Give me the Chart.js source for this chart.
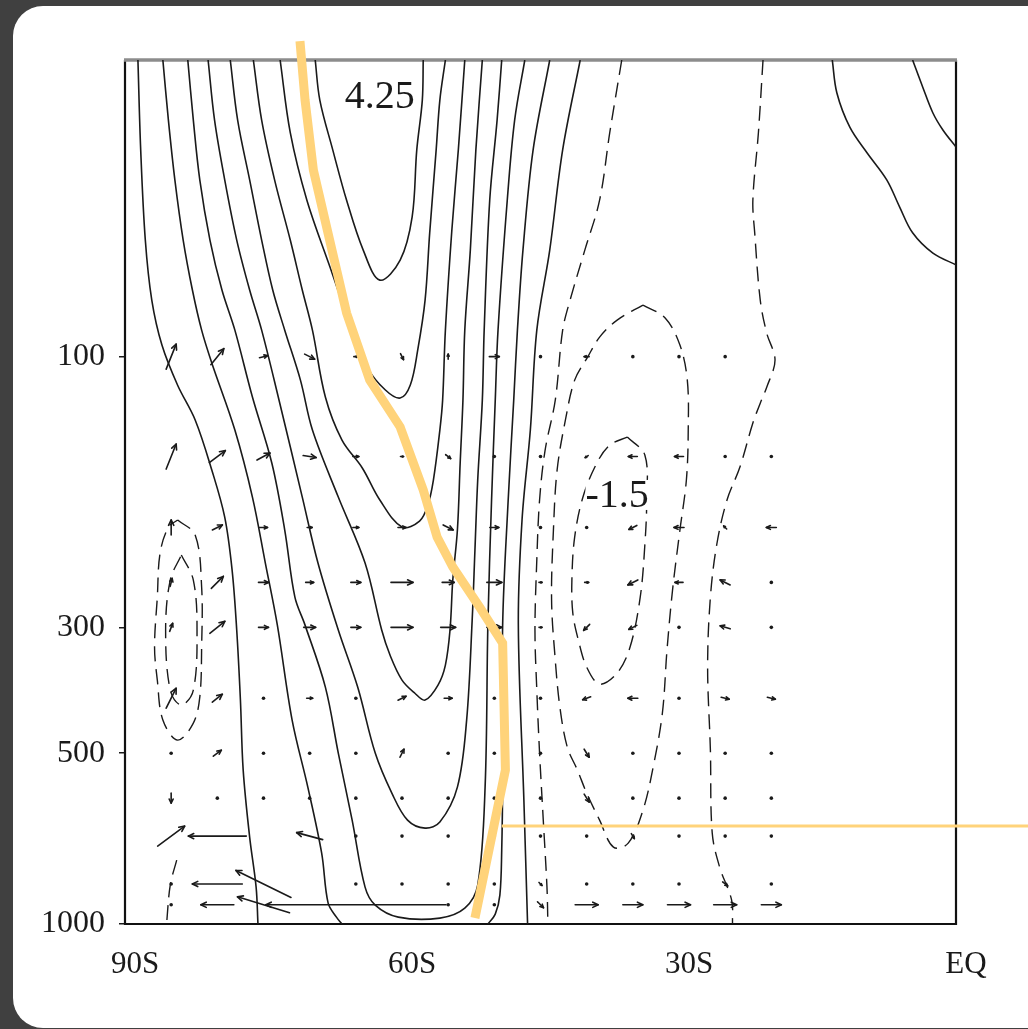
<!DOCTYPE html>
<html>
<head>
<meta charset="utf-8">
<script src="https://cdn.jsdelivr.net/npm/chart.js@4.4.1/dist/chart.umd.min.js"></script>
<style>
  html, body { margin: 0; padding: 0; background: #404040; }
  body { width: 1028px; height: 1029px; position: relative; overflow: hidden; }
  .card { position: absolute; left: 13px; top: 6px; width: 1060px; height: 1022px; background: #fff; border-radius: 30px; }
  canvas { position: absolute; left: 0; top: 0; }
</style>
</head>
<body>
<div class="card"></div>
<canvas id="chart" width="1028" height="1029"></canvas>
<script>
// axes
const xTickValues = [-90, -60, -30, 0];
const xTickLabels = ["90S", "60S", "30S", "EQ"];
const yTickValues = [100, 300, 500, 1000];
const yTickLabels = ["100", "300", "500", "1000"];

// positive (solid) contours, [latitude, hPa]
const pos425 = [[-69.4,30],[-68.9,35.3],[-67.5,43.2],[-66.0,53.0],[-64.2,64.9],[-62.4,73.3],[-60.2,67.6],[-58.9,56.7],[-58.4,43.2],[-57.8,35.3],[-57.7,30]];
const pos2 = [[-73.2,30],[-72.1,40.3],[-70.3,53.0],[-67.8,69.5],[-65.3,90.9],[-63.8,104.3],[-61.8,114.5],[-60.2,118.3],[-59.1,112.2],[-58.3,97.4],[-57.5,79.5],[-57.0,60.5],[-56.3,43.2],[-55.9,35.3],[-55.3,30]];
const pos3 = [[-76.1,30],[-75.2,38.3],[-73.8,48.8],[-72.1,62.3],[-70.8,76.3],[-69.7,89.8],[-68.3,117.8],[-66.5,140.3],[-64.3,157.1],[-62.4,178.9],[-60.0,199.7],[-58.1,194.9],[-57.2,182.6],[-56.6,165.0],[-55.9,134.7],[-55.6,119.3],[-55.3,89.8],[-54.6,59.8],[-53.9,43.2],[-53.2,30]];
const pos4 = [[-78.6,30],[-77.8,38.3],[-76.5,48.8],[-75.2,62.3],[-74.0,76.3],[-72.7,89.8],[-71.0,110.0],[-69.7,134.7],[-66.9,176.8],[-64.0,231.1],[-62.2,303.3],[-61.3,335.7],[-60.0,371.6],[-58.6,392.0],[-57.5,403.0],[-56.1,379.2],[-55.3,349.6],[-54.8,303.3],[-54.5,247.6],[-54.0,202.1],[-53.7,154.0],[-53.4,119.3],[-53.2,89.8],[-52.6,64.9],[-52.0,43.2],[-51.3,30]];
const pos5 = [[-81.0,30],[-80.3,38.3],[-79.2,48.8],[-77.9,62.3],[-76.5,76.3],[-75.2,89.8],[-73.4,117.8],[-70.8,176.8],[-69.1,231.1],[-66.9,303.3],[-64.8,382.3],[-62.9,499.8],[-61.1,587.9],[-59.4,656.0],[-57.5,677.7],[-55.9,661.3],[-54.0,573.8],[-53.0,437.1],[-52.4,291.3],[-52.1,219.2],[-51.8,165.0],[-51.3,119.3],[-51.1,89.8],[-50.5,53.0],[-49.7,38.3],[-49.2,30]];
const pos6 = [[-83.2,30],[-82.6,38.3],[-81.9,48.8],[-80.8,62.3],[-79.5,76.3],[-78.1,89.8],[-76.2,117.8],[-74.1,154.0],[-72.7,202.1],[-71.6,265.4],[-70.5,297.3],[-68.3,382.3],[-66.9,499.8],[-65.4,656.0],[-64.0,861.1],[-62.9,926.3],[-60.4,972.6],[-55.9,976.4],[-53.2,937.8],[-51.8,854.1],[-51.0,573.8],[-50.7,297.3],[-50.3,178.9],[-49.9,119.3],[-49.6,89.8],[-48.6,53.0],[-47.8,38.3],[-46.7,30]];
const pos7West = [[-85.9,30],[-85.3,38.3],[-84.6,48.8],[-83.7,62.3],[-82.7,76.3],[-81.7,89.8],[-80.6,102.6],[-78.1,134.7],[-76.2,176.8],[-74.8,231.1],[-73.5,297.3],[-71.9,437.1],[-70.2,573.8],[-68.7,750.0],[-68.0,918.9],[-67.1,972.6],[-66.5,1000]];
const pos7East = [[-50.7,1000],[-49.9,960.8],[-49.4,889.5],[-49.2,740.9],[-49.1,557.7],[-49.1,297.3],[-48.5,178.9],[-47.9,119.3],[-47.5,89.8],[-46.9,64.9],[-45.8,43.2],[-44.0,30]];
const pos8West = [[-88.6,30],[-88.3,43.2],[-87.8,62.3],[-87.1,79.5],[-86.0,95.4],[-84.3,112.3],[-82.4,129.3],[-80.6,158.4],[-79.2,191.8],[-78.4,237.8],[-77.9,303.3],[-77.5,403.0],[-77.2,535.5],[-76.5,702.9],[-75.8,861.1],[-75.6,1000]];
const pos8East = [[-46.4,1000],[-46.8,604.8],[-47.4,297.3],[-47.0,194.1],[-46.1,134.7],[-45.4,89.8],[-44.0,64.9],[-42.6,43.2],[-40.7,30]];
const posTropic1 = [[-13.4,30],[-12.9,34.3],[-11.5,39.4],[-9.6,43.8],[-7.5,48.8],[-6.1,54.5],[-4.7,60.5],[-2.5,65.7],[0,68.9]];
const posTropic2 = [[-4.7,30],[-3.6,33.5],[-2.5,37.2],[-1.4,39.9],[0,42.7]];

// negative (dashed) contours
const negSubtrop = [[-36.2,30],[-37.5,40.3],[-38.6,53.0],[-40.2,64.9],[-41.8,79.5],[-42.6,89.8],[-43.4,119.3],[-44.5,146.1],[-45.1,178.9],[-45.4,228.3],[-45.6,303.3],[-45.4,387.0],[-45.1,499.8],[-44.7,656.0],[-44.3,861.1],[-44.2,1000]];
const negOuter = [[-33.9,81.1],[-31.5,85.5],[-29.9,95.4],[-29.1,110.0],[-29.0,134.7],[-29.2,165.0],[-29.9,202.1],[-30.7,257.9],[-31.3,329.0],[-31.8,424.9],[-32.8,529.0],[-33.9,629.9],[-35.5,720.3],[-37.1,732.1],[-38.6,656.0],[-40.0,587.9],[-41.0,535.5],[-42.1,487.8],[-42.9,414.7],[-43.4,342.6],[-43.8,268.5],[-43.6,202.1],[-43.2,158.4],[-42.3,129.3],[-41.3,110.0],[-39.9,100.2],[-38.6,92.4],[-36.7,86.2],[-33.9,81.1]];
const neg15 = [[-35.6,138.6],[-33.7,149.1],[-33.5,178.9],[-33.7,214.8],[-34.2,265.4],[-35.3,325.0],[-36.7,361.2],[-38.6,377.7],[-40.0,352.5],[-40.9,315.9],[-41.5,283.1],[-41.6,247.6],[-41.3,208.0],[-40.4,176.8],[-38.9,154.0],[-37.5,143.2],[-35.6,138.6]];
const negTropic = [[-20.9,30],[-21.4,40.3],[-22.0,53.0],[-21.8,60.5],[-21.2,79.5],[-20.5,90.9],[-19.6,101.4],[-20.5,113.2],[-21.2,120.8],[-22.0,130.9],[-23.4,156.5],[-24.8,178.9],[-25.9,213.9],[-26.6,265.4],[-26.9,352.5],[-26.6,493.7],[-26.4,691.6],[-25.6,793.9],[-24.3,907.7],[-24.2,1000]];
const negPolarOuter = [[-84.3,194.1],[-82.4,206.2],[-81.7,254.8],[-81.7,325.0],[-81.9,398.2],[-82.6,442.5],[-84.3,474.1],[-85.9,437.1],[-86.5,371.6],[-86.8,325.0],[-86.5,265.4],[-86.2,221.9],[-85.3,199.7],[-84.3,194.1]];
const negPolarInner = [[-83.9,223.7],[-82.6,247.6],[-82.2,303.3],[-82.6,387.0],[-83.9,411.3],[-85.1,387.0],[-85.6,303.3],[-85.1,247.6],[-83.9,223.7]];
const negPolarLow = [[-84.4,771.6],[-85.1,854.1],[-85.5,1000]];

// contour labels
const labelTexts = ["4.25", "-1.5"];
const labelLats = [-62.4, -36.7];
const labelLevels = [34.6, 175.3];

// wind vectors (east, up components) on a 5 degree grid
const arrowLats = [-85, -80, -75, -70, -65, -60, -55, -50, -45, -40, -35, -30, -25, -20];
const arrowLevels = [100, 150, 200, 250, 300, 400, 500, 600, 700, 850, 925];
const u100 = [10, 13, 8, 10, 4, 3, 0, 10, 2, -5, 1, 1, 1, null];
const w100 = [25, 16, 2, -5, 0, -6, 5, 0, 0, 0, 0, 0, 0, null];
const u150 = [10, 16, 13, 13, 6, 3, 5, 1, 1, -3, -9, -9, 1, 1];
const w150 = [25, 12, 7, -2, 0, 0, -4, 0, 0, -2, 0, 0, 0, 0];
const u200 = [0, 10, 8, 5, 6, 8, 10, 9, 1, 1, -8, -10, -3, -10];
const w200 = [15, 5, 0, 0, 0, 0, -5, 0, 0, 0, -4, 0, 3, 0];
const u250 = [2, 12, 10, 8, 10, 22, 12, 15, 3, 4, -10, -8, -10, 1];
const w250 = [8, 12, 0, 0, 0, 0, 0, 0, 0, 0, -5, 0, 5, 0];
const u300 = [3, 15, 10, 12, 10, 22, 15, 15, 3, -6, -8, 2, -10, 1];
const w300 = [8, 12, 0, 0, 0, 0, 0, 0, 0, -6, -4, 0, 3, 0];
const u400 = [10, 10, 1, 6, 1, 8, 8, 2, 1, -8, -10, 1, 8, 8];
const w400 = [20, 8, 0, 0, 0, 4, 0, 0, 0, -3, 0, 0, -2, -2];
const u500 = [1, 8, 1, 1, 1, 4, 1, 1, 1, 5, 1, 1, 1, 1];
const w500 = [0, 6, 0, 0, 0, 8, 0, 0, 0, -8, 0, 0, 0, 0];
const u600 = [0, 1, 1, 1, 1, 1, 1, 1, 1, 5, 1, 1, 1, 2];
const w600 = [-10, 0, 0, 0, 0, 0, 0, 0, 0, -8, 0, 0, 0, 0];
const u700 = [27, -58, null, -26, 1, 1, 1, 1, 1, 1, 3, 1, 1, 1];
const w700 = [20, 0, null, 7, 0, 0, 0, 0, 0, 0, -5, 0, 0, 0];
const u850 = [1, -50, -55, null, 1, 1, 1, 1, 3, 1, 1, 1, 5, 1];
const w850 = [0, 0, 27, null, 0, 0, 0, 0, -3, 0, 0, 0, -4, 0];
const u925 = [1, -33, -52, null, -180, null, 1, 1, 6, 23, 20, 23, 23, 20];
const w925 = [0, 0, 16, null, 0, null, 0, 0, -6, 0, 0, 0, 0, 0];

// hand-drawn overlay
const jetAxisLats = [-71.05, -70.5, -69.6, -66.0, -63.5, -60.2, -57.7, -56.2, -54.5, -51.6, -49.1, -48.8, -52.1];
const jetAxisLevels = [27.8, 35.3, 46.9, 83.8, 109.9, 133.0, 171.8, 207.9, 234.8, 276.2, 319.7, 535.3, 976];
const markerLats = [-49.2, 8];
const markerLevels = [672, 672];

const arrowU = [u100, u150, u200, u250, u300, u400, u500, u600, u700, u850, u925];
const arrowW = [w100, w150, w200, w250, w300, w400, w500, w600, w700, w850, w925];

const INK = "#1a1a1a";
const HIGHLIGHT = "#ffd37a";
const SERIF = "'Liberation Serif', 'DejaVu Serif', serif";

function contour(pairs, dashed) {
    return {
        data: pairs.map(([lat, p]) => ({ x: lat, y: p })),
        showLine: true,
        borderColor: INK,
        borderWidth: dashed ? 1.4 : 1.6,
        borderDash: dashed ? [15, 8] : [],
        pointRadius: 0,
        tension: 0.35
    };
}

function overlay(lats, levels, width) {
    return {
        data: lats.map((lat, i) => ({ x: lat, y: levels[i] })),
        showLine: true,
        borderColor: HIGHLIGHT,
        borderWidth: width,
        pointRadius: 0,
        tension: 0,
        clip: false
    };
}

const framePlugin = {
    id: "frame",
    beforeDatasetsDraw(chart) {
        const { ctx, chartArea: a } = chart;
        ctx.save();
        ctx.lineWidth = 2.2;
        ctx.strokeStyle = "#111";
        ctx.beginPath();
        ctx.moveTo(a.left, a.top);
        ctx.lineTo(a.left, a.bottom);
        ctx.lineTo(a.right, a.bottom);
        ctx.lineTo(a.right, a.top);
        ctx.stroke();
        ctx.lineWidth = 3.5;
        ctx.strokeStyle = "#8c8c8c";
        ctx.beginPath();
        ctx.moveTo(a.left - 1, a.top);
        ctx.lineTo(a.right + 1, a.top);
        ctx.stroke();
        ctx.restore();
    }
};

const vectorPlugin = {
    id: "vectors",
    beforeDatasetsDraw(chart) {
        const { ctx } = chart;
        const xs = chart.scales.x;
        const ys = chart.scales.y;
        ctx.save();
        ctx.strokeStyle = INK;
        ctx.fillStyle = INK;
        ctx.lineWidth = 1.6;
        ctx.lineCap = "round";
        arrowLevels.forEach((level, row) => {
            arrowLats.forEach((lat, col) => {
                const u = arrowU[row][col];
                const w = arrowW[row][col];
                if (u === null || w === null) return;
                const cx = xs.getPixelForValue(lat);
                const cy = ys.getPixelForValue(level);
                const len = Math.hypot(u, w);
                if (len < 3) {
                    ctx.beginPath();
                    ctx.arc(cx, cy, 1.8, 0, Math.PI * 2);
                    ctx.fill();
                    return;
                }
                const x0 = cx - u / 2, y0 = cy + w / 2;
                const x1 = cx + u / 2, y1 = cy - w / 2;
                ctx.beginPath();
                ctx.moveTo(x0, y0);
                ctx.lineTo(x1, y1);
                ctx.stroke();
                const ang = Math.atan2(y1 - y0, x1 - x0);
                const head = Math.min(6, len * 0.45);
                ctx.beginPath();
                ctx.moveTo(x1, y1);
                ctx.lineTo(x1 - head * Math.cos(ang - 0.45), y1 - head * Math.sin(ang - 0.45));
                ctx.moveTo(x1, y1);
                ctx.lineTo(x1 - head * Math.cos(ang + 0.45), y1 - head * Math.sin(ang + 0.45));
                ctx.stroke();
            });
        });
        ctx.restore();
    }
};

const labelPlugin = {
    id: "contourLabels",
    afterDatasetsDraw(chart) {
        const { ctx } = chart;
        ctx.save();
        ctx.font = `40px ${SERIF}`;
        ctx.textAlign = "center";
        ctx.textBaseline = "middle";
        labelTexts.forEach((text, i) => {
            const x = chart.scales.x.getPixelForValue(labelLats[i]);
            const y = chart.scales.y.getPixelForValue(labelLevels[i]);
            const w = ctx.measureText(text).width;
            ctx.fillStyle = "#fff";
            ctx.fillRect(x - w / 2, y - 15, w, 30);
            ctx.fillStyle = INK;
            ctx.fillText(text, x, y + 2);
        });
        ctx.restore();
    }
};

const datasets = [
    overlay(jetAxisLats, jetAxisLevels, 9),
    overlay(markerLats, markerLevels, 3),
    contour(pos425), contour(pos2), contour(pos3), contour(pos4),
    contour(pos5), contour(pos6), contour(pos7West), contour(pos7East),
    contour(pos8West), contour(pos8East), contour(posTropic1), contour(posTropic2),
    contour(negSubtrop, true), contour(negOuter, true), contour(neg15, true),
    contour(negTropic, true), contour(negPolarOuter, true), contour(negPolarInner, true),
    contour(negPolarLow, true)
];

new Chart(document.getElementById("chart"), {
    type: "scatter",
    data: { datasets },
    options: {
        responsive: false,
        animation: false,
        devicePixelRatio: 1,
        layout: { padding: { left: 0, right: 72, top: 60, bottom: 45 } },
        plugins: { legend: { display: false }, tooltip: { enabled: false } },
        scales: {
            x: {
                type: "linear",
                min: -90,
                max: 0,
                afterBuildTicks: (scale) => { scale.ticks = xTickValues.map((v) => ({ value: v })); },
                afterFit: (scale) => { scale.height = 60; },
                ticks: {
                    callback: (value, index) => xTickLabels[index],
                    font: { family: SERIF, size: 31 },
                    color: INK,
                    padding: 14,
                    labelOffset: 10,
                    maxRotation: 0,
                    autoSkip: false
                },
                grid: { display: false },
                border: { display: false }
            },
            y: {
                type: "logarithmic",
                min: 30,
                max: 1000,
                reverse: true,
                afterBuildTicks: (scale) => { scale.ticks = yTickValues.map((v) => ({ value: v })); },
                afterFit: (scale) => { scale.width = 125; },
                ticks: {
                    callback: (value, index) => yTickLabels[index],
                    font: { family: SERIF, size: 32 },
                    color: INK,
                    padding: 14,
                    autoSkip: false
                },
                grid: { display: true, drawOnChartArea: false, drawTicks: true, tickLength: 6, color: INK, lineWidth: 1.5 },
                border: { display: false }
            }
        }
    },
    plugins: [framePlugin, vectorPlugin, labelPlugin]
});
</script>
</body>
</html>
